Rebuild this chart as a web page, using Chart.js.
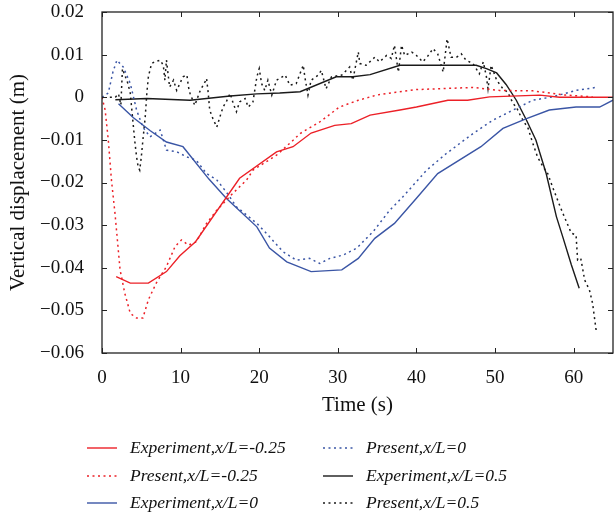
<!DOCTYPE html>
<html>
<head>
<meta charset="utf-8">
<script src="https://cdn.jsdelivr.net/npm/chart.js@4/dist/chart.umd.min.js"></script>
<style>
  html, body { margin: 0; padding: 0; background: #fff; }
  #wrap { width: 614px; height: 517px; }
</style>
</head>
<body>
<div id="wrap"><canvas id="disp"></canvas></div>
<script>
// Experiment, x/L=-0.25
const expA_t = [1.8, 3.6, 5.9, 8.2, 9.9, 11.9, 17.5, 22.2, 24.3, 26.6, 29.6, 31.7, 34.1, 37.9, 40.0, 44.0, 46.5, 49.3, 55.7, 58.2, 65];
const expA_v = [-0.0421, -0.0436, -0.0436, -0.0409, -0.0372, -0.0339, -0.0190, -0.0128, -0.0116, -0.0084, -0.0066, -0.0062, -0.0042, -0.0030, -0.0023, -0.0007, -0.0007, 0.0001, 0.0005, 0.0000, 0.0000];

// Present, x/L=-0.25
const preA_t = [0, 0.4, 0.8, 1.2, 1.65, 2.3, 2.9, 3.6, 4.4, 5.2, 5.9, 6.9, 8.2, 9.3, 10.1, 11.0, 12.0, 13.3, 14.6, 16.5, 18.4, 19.2, 22.2, 24.3, 25.2, 27.7, 30.2, 32.6, 34.9, 37.4, 40.0, 42.9, 47.2, 50.6, 54.8, 59.0, 62.4];
const preA_v = [0, -0.003, -0.010, -0.0194, -0.0272, -0.0405, -0.046, -0.0507, -0.0518, -0.0518, -0.0475, -0.0436, -0.0397, -0.035, -0.0335, -0.0347, -0.0339, -0.0296, -0.0265, -0.0228, -0.0194, -0.0171, -0.0136, -0.0101, -0.0085, -0.0058, -0.0023, -0.0007, 0.0005, 0.0012, 0.0018, 0.002, 0.0023, 0.0016, 0.0015, 0.0005, 0.0001];

// Experiment, x/L=0
const expB_t = [2.1, 4.0, 6.1, 8.2, 10.3, 13.6, 15.8, 19.7, 21.3, 23.5, 26.6, 30.5, 32.6, 34.7, 37.2, 40.0, 42.7, 48.2, 51.0, 54.0, 56.9, 60.3, 63.3, 65];
const expB_v = [-0.0015, -0.0048, -0.0078, -0.0105, -0.0116, -0.0192, -0.0237, -0.0304, -0.0354, -0.0386, -0.0409, -0.0405, -0.0378, -0.0331, -0.0296, -0.0237, -0.0179, -0.0116, -0.0073, -0.005, -0.003, -0.0023, -0.0023, -0.0007];

// Present, x/L=0
const preB_t = [0, 0.8, 1.4, 1.9, 2.7, 3.6, 4.4, 5.2, 6.1, 7.4, 8.2, 9.5, 10.8, 12.0, 13.3, 14.6, 15.8, 17.1, 19.7, 21.3, 23.0, 24.7, 26.4, 27.7, 29.0, 30.7, 32.4, 34.5, 36.6, 38.3, 41.3, 43.8, 47.2, 49.7, 52.3, 54.8, 57.3, 60.3, 62.8];
const preB_v = [0, 0.001, 0.006, 0.0087, 0.0071, 0.0032, -0.003, -0.007, -0.0093, -0.0077, -0.0124, -0.0128, -0.014, -0.0148, -0.0179, -0.0194, -0.0222, -0.0257, -0.0296, -0.0327, -0.0362, -0.0382, -0.0378, -0.039, -0.0378, -0.037, -0.0354, -0.0315, -0.0265, -0.0233, -0.0171, -0.0132, -0.0085, -0.0054, -0.003, -0.0007, 0.0001, 0.0016, 0.0023];

// Experiment, x/L=0.5
const expC_t = [1.7, 5.7, 11.2, 16.3, 19.7, 22.6, 25.2, 29.8, 31.9, 34.1, 37.9, 47.6, 48.9, 50.2, 51.4, 52.7, 54.0, 55.2, 56.5, 57.8, 58.6, 59.7, 60.7];
const expC_v = [-0.0006, -0.0003, -0.0007, 0.0003, 0.0008, 0.001, 0.0013, 0.0048, 0.0048, 0.0053, 0.0075, 0.0075, 0.0067, 0.0057, 0.003, -0.0007, -0.0054, -0.0101, -0.0179, -0.028, -0.0327, -0.0393, -0.0448];

// Present, x/L=0.5
const preC_t = [1.0, 1.7, 2.1, 2.4, 2.6, 2.9, 3.3, 3.6, 4.0, 4.2, 4.4, 4.6, 4.8, 5.0, 5.2, 5.5, 5.7, 5.9, 6.3, 6.7, 7.4, 7.8, 8.0, 8.2, 8.4, 8.6, 9.1, 9.5, 9.9, 10.3, 10.8, 11.0, 11.2, 11.8, 12.5, 13.1, 13.3, 13.5, 13.7, 14.1, 14.6, 15.0, 15.4, 15.8, 16.3, 16.7, 17.1, 17.5, 18.2, 18.6, 19.2, 19.7, 20.0, 20.3, 20.7, 21.1, 21.6, 22.2, 23.3, 23.9, 24.7, 25.6, 25.8, 26.2, 26.6, 27.5, 27.9, 28.5, 29.2, 30.5, 31.5, 31.9, 32.6, 32.8, 33.6, 34.7, 35.3, 36.2, 36.8, 37.2, 37.7, 38.1, 38.5, 39.4, 40.0, 40.8, 41.5, 42.1, 42.7, 43.4, 43.9, 44.4, 45.1, 45.7, 46.3, 47.2, 48.0, 48.5, 48.9, 49.1, 49.5, 50.2, 51.0, 51.6, 52.3, 52.7, 53.3, 54.2, 54.8, 55.4, 56.1, 56.7, 57.3, 58.2, 58.8, 59.7, 60.3, 60.5, 60.9, 61.4, 62.0, 62.4, 62.9];
const preC_v = [0, 0.0, 0.0008, -0.0018, 0.0067, 0.0052, 0.0032, 0.0009, -0.007, -0.0108, -0.014, -0.0163, -0.0171, -0.014, -0.0101, -0.0046, 0.0009, 0.0048, 0.0079, 0.0083, 0.0087, 0.0075, 0.004, 0.0087, 0.0055, 0.0024, 0.004, 0.0016, 0.0032, 0.0048, 0.0052, 0.0024, 0.0009, -0.0019, 0.0016, 0.0036, 0.0044, 0.0012, -0.003, -0.005, -0.007, -0.0046, -0.0023, -0.0011, 0.0009, -0.0015, -0.0034, -0.0011, -0.0003, -0.0023, -0.0011, 0.0048, 0.0067, 0.0032, 0.0016, 0.004, 0.0005, 0.004, 0.0052, 0.0028, 0.0032, 0.0075, 0.0048, 0.0005, 0.004, 0.0052, 0.0063, 0.002, 0.0048, 0.0052, 0.0071, 0.004, 0.0106, 0.0079, 0.0075, 0.0094, 0.0083, 0.0098, 0.0091, 0.0122, 0.0059, 0.0122, 0.0098, 0.0106, 0.0098, 0.0083, 0.0098, 0.0114, 0.0102, 0.0059, 0.0137, 0.0094, 0.0094, 0.0102, 0.0087, 0.0079, 0.0055, 0.0083, 0.0048, 0.002, 0.0075, 0.004, 0.002, 0.0012, -0.0015, -0.0023, -0.0046, -0.0073, -0.0108, -0.014, -0.0163, -0.0179, -0.021, -0.0253, -0.028, -0.0319, -0.0323, -0.0382, -0.0378, -0.0429, -0.0452, -0.0483, -0.0553];

const xTicks = [0, 10, 20, 30, 40, 50, 60];
const yTicks = [0.02, 0.01, 0, -0.01, -0.02, -0.03, -0.04, -0.05, -0.06];

const RED = '#ec2027';
const BLUE = '#3a55a5';
const BLACK = '#1a1a1a';
const DOT = [2, 3.5];
const SERIF = '"Liberation Serif", "DejaVu Serif", serif';

function pts(t, v) {
  return t.map((x, i) => ({ x: x, y: v[i] }));
}

function fmtY(v) {
  const r = Math.round(v * 100) / 100;
  if (r === 0) return '0';
  return r.toFixed(2).replace('-', '\u2212');
}

// frame + inward ticks on all four sides
const framePlugin = {
  id: 'frame',
  afterDatasetsDraw(chart) {
    const { ctx, chartArea: a, scales } = chart;
    ctx.save();
    ctx.strokeStyle = '#222';
    ctx.lineWidth = 1.3;
    ctx.strokeRect(a.left, a.top, a.right - a.left, a.bottom - a.top);
    ctx.lineWidth = 1;
    ctx.beginPath();
    xTicks.forEach(v => {
      const px = Math.round(scales.x.getPixelForValue(v)) + 0.5;
      ctx.moveTo(px, a.bottom); ctx.lineTo(px, a.bottom - 5);
      ctx.moveTo(px, a.top); ctx.lineTo(px, a.top + 5);
    });
    yTicks.forEach(v => {
      const py = Math.round(scales.y.getPixelForValue(v)) + 0.5;
      ctx.moveTo(a.left, py); ctx.lineTo(a.left + 5, py);
      ctx.moveTo(a.right, py); ctx.lineTo(a.right - 5, py);
    });
    ctx.stroke();
    ctx.restore();
  }
};

// two-column legend below the axis title
const legendPlugin = {
  id: 'twoColLegend',
  afterDraw(chart) {
    const ctx = chart.ctx;
    const cols = [[0, 1, 2], [3, 4, 5]];
    const colX = [87, 323];
    const rowY = [448, 476, 503];
    ctx.save();
    ctx.font = 'italic 17.5px ' + SERIF;
    ctx.textBaseline = 'middle';
    ctx.fillStyle = '#111';
    cols.forEach((col, ci) => {
      col.forEach((di, ri) => {
        const ds = chart.data.datasets[di];
        const x0 = colX[ci], y = rowY[ri];
        ctx.beginPath();
        ctx.strokeStyle = ds.borderColor;
        ctx.lineWidth = ds.borderWidth;
        ctx.setLineDash(ds.borderDash || []);
        ctx.moveTo(x0, y); ctx.lineTo(x0 + 30, y);
        ctx.stroke();
        ctx.setLineDash([]);
        ctx.fillText(ds.label, x0 + 43, y);
      });
    });
    ctx.restore();
  }
};

const ctx = document.getElementById('disp');

new Chart(ctx, {
  type: 'line',
  data: {
    datasets: [
      { label: 'Experiment,x/L=-0.25', data: pts(expA_t, expA_v), borderColor: RED, borderWidth: 1.4 },
      { label: 'Present,x/L=-0.25', data: pts(preA_t, preA_v), borderColor: RED, borderWidth: 1.5, borderDash: DOT },
      { label: 'Experiment,x/L=0', data: pts(expB_t, expB_v), borderColor: BLUE, borderWidth: 1.4 },
      { label: 'Present,x/L=0', data: pts(preB_t, preB_v), borderColor: BLUE, borderWidth: 1.5, borderDash: DOT },
      { label: 'Experiment,x/L=0.5', data: pts(expC_t, expC_v), borderColor: BLACK, borderWidth: 1.4 },
      { label: 'Present,x/L=0.5', data: pts(preC_t, preC_v), borderColor: BLACK, borderWidth: 1.5, borderDash: DOT }
    ]
  },
  options: {
    responsive: true,
    maintainAspectRatio: false,
    animation: false,
    layout: { padding: { top: 12, right: 1, left: 0, bottom: 99 } },
    elements: { point: { radius: 0 }, line: { tension: 0, fill: false } },
    plugins: {
      legend: { display: false },
      tooltip: { enabled: false }
    },
    scales: {
      x: {
        type: 'linear',
        min: 0,
        max: 65,
        grid: { display: false },
        border: { display: false },
        afterBuildTicks: s => { s.ticks = xTicks.map(v => ({ value: v })); },
        afterFit: s => { s.height = 65; s.paddingLeft = 0; s.paddingRight = 0; },
        ticks: {
          padding: 6,
          maxRotation: 0,
          color: '#111',
          font: { family: SERIF, size: 19 }
        },
        title: {
          display: true,
          text: 'Time (s)',
          color: '#111',
          padding: { top: 0, bottom: 0 },
          font: { family: SERIF, size: 21 }
        }
      },
      y: {
        type: 'linear',
        min: -0.06,
        max: 0.02,
        grid: { display: false },
        border: { display: false },
        afterBuildTicks: s => { s.ticks = yTicks.map(v => ({ value: v })); },
        afterFit: s => { s.width = 102; s.paddingTop = 0; s.paddingBottom = 0; },
        ticks: {
          padding: 10,
          color: '#111',
          callback: v => fmtY(v),
          font: { family: SERIF, size: 19 }
        },
        title: {
          display: true,
          text: 'Vertical displacement (m)',
          color: '#111',
          padding: { top: 6, bottom: 0 },
          font: { family: SERIF, size: 21 }
        }
      }
    }
  },
  plugins: [framePlugin, legendPlugin]
});
</script>
</body>
</html>
